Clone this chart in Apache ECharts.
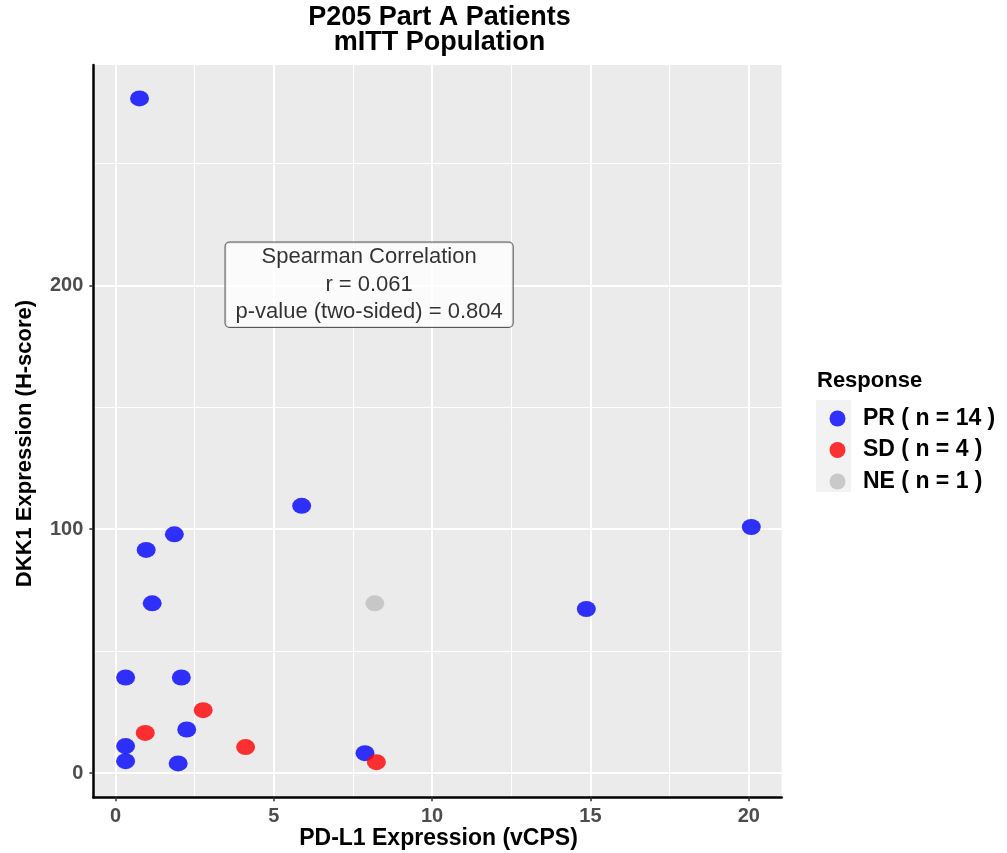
<!DOCTYPE html>
<html><head><meta charset="utf-8">
<script src="https://cdn.jsdelivr.net/npm/echarts@6/dist/echarts.min.js"></script>
<style>html,body{margin:0;padding:0;background:#fff}#c{width:1007px;height:853px}</style>
</head><body><div id="c"></div>
<script>
// ---- data ----
const titleLines = ['P205 Part A Patients', 'mITT Population'];
const xAxisTitle = 'PD-L1 Expression (vCPS)';
const yAxisTitle = 'DKK1 Expression (H-score)';
const legendTitle = 'Response';
const seriesNames = ['PR ( n = 14 )', 'SD ( n = 4 )', 'NE ( n = 1 )'];
const seriesColors = ['#0000FF', '#FF0000', '#BEBEBE'];
const prPoints = [[0.76, 276.6], [5.88, 109.6], [20.08, 100.9], [1.86, 97.9], [0.97, 91.5],
  [1.16, 69.6], [14.87, 67.3], [0.32, 39.2], [2.08, 39.2], [2.25, 17.9],
  [0.32, 11.1], [0.32, 4.9], [1.98, 4.0], [7.88, 8.2]];
const sdPoints = [[2.77, 25.8], [0.94, 16.5], [4.11, 10.7], [8.24, 4.5]];
const nePoints = [[8.19, 69.6]];
const xTicks = [0, 5, 10, 15, 20];
const xMinorTicks = [2.5, 7.5, 12.5, 17.5];
const yTicks = [0, 100, 200];
const yMinorTicks = [50, 150, 250];
const xRange = [-0.7, 21.04];
const yRange = [-9.9, 290.3];
const annotationLines = ['Spearman Correlation', 'r = 0.061', 'p-value (two-sided) = 0.804'];
const annotationPos = [8.01, 200.2];

// ---- chart ----
const FONT = '"Liberation Sans", Arial, sans-serif';
const ellipse = 'path://M0,1a1,1 0 1,0 2,0a1,1 0 1,0 -2,0z';
const chart = echarts.init(document.getElementById('c'), null, {renderer: 'canvas'});

function mkSeries(name, data, color) {
  return {
    type: 'scatter', name: name, data: data,
    symbol: ellipse, symbolSize: [19, 16],
    itemStyle: {color: color, opacity: 0.8},
    emphasis: {disabled: true}, clip: false
  };
}

const majorAxisCommon = {
  type: 'value',
  axisLine: {show: true, onZero: false, lineStyle: {color: '#000', width: 2.5}},
  axisTick: {show: true, length: 4, lineStyle: {color: '#333', width: 1.5}},
  axisLabel: {color: '#4D4D4D', fontWeight: 'bold', fontSize: 20, fontFamily: FONT},
  splitLine: {show: true, lineStyle: {color: '#FFFFFF', width: 2}},
  minorTick: {show: false}, minorSplitLine: {show: false}
};
const minorAxisCommon = {
  type: 'value',
  axisLine: {show: false},
  axisLabel: {show: false},
  splitLine: {show: true, lineStyle: {color: '#FFFFFF', width: 1}}
};

const option = {
  backgroundColor: '#FFFFFF',
  animation: false,
  grid: {left: 93.3, right: 225.3, top: 65, bottom: 55.7, show: true,
    backgroundColor: '#EBEBEB', borderWidth: 0, containLabel: false, outerBoundsMode: 'none'},
  xAxis: [
    Object.assign({}, minorAxisCommon, {min: xRange[0], max: xRange[1], position: 'bottom',
      axisTick: {show: false, customValues: xMinorTicks}}),
    echarts.util.merge(echarts.util.clone(majorAxisCommon), {min: xRange[0], max: xRange[1], position: 'bottom',
      axisTick: {customValues: xTicks}, axisLabel: {customValues: xTicks, margin: 9}})
  ],
  yAxis: [
    Object.assign({}, minorAxisCommon, {min: yRange[0], max: yRange[1], position: 'left',
      axisTick: {show: false, customValues: yMinorTicks}}),
    echarts.util.merge(echarts.util.clone(majorAxisCommon), {min: yRange[0], max: yRange[1], position: 'left',
      axisTick: {customValues: yTicks}, axisLabel: {customValues: yTicks, margin: 10}})
  ],
  legend: {
    orient: 'vertical', left: 824.5, top: 402, itemWidth: 19, itemHeight: 16, itemGap: 8.5,
    icon: ellipse, data: seriesNames, selectedMode: false,
    textStyle: {fontSize: 23, fontWeight: 'bold', color: '#000', fontFamily: FONT, lineHeight: 22, padding: [0, 0, 0, 11]}
  },
  graphic: [
    {type: 'rect', shape: {x: 816, y: 400, width: 35, height: 92}, style: {fill: '#F2F2F2'}, z: 0, silent: true},
    {type: 'text', x: 439.5, y: 18, style: {text: titleLines[0], align: 'center', verticalAlign: 'middle',
      fontSize: 27, fontWeight: 'bold', fontFamily: FONT, fill: '#000'}},
    {type: 'text', x: 439.5, y: 43, style: {text: titleLines[1], align: 'center', verticalAlign: 'middle',
      fontSize: 27, fontWeight: 'bold', fontFamily: FONT, fill: '#000'}},
    {type: 'text', x: 438.5, y: 839, style: {text: xAxisTitle, align: 'center', verticalAlign: 'middle',
      fontSize: 23, fontWeight: 'bold', fontFamily: FONT, fill: '#000'}},
    {type: 'text', x: 25, y: 443.5, rotation: Math.PI / 2, style: {text: yAxisTitle, align: 'center', verticalAlign: 'middle',
      fontSize: 22, fontWeight: 'bold', fontFamily: FONT, fill: '#000'}},
    {type: 'text', x: 817, y: 381, style: {text: legendTitle, align: 'left', verticalAlign: 'middle',
      fontSize: 22, fontWeight: 'bold', fontFamily: FONT, fill: '#000'}}
  ],
  series: [
    Object.assign(mkSeries(seriesNames[0], prPoints, seriesColors[0]), {xAxisIndex: 1, yAxisIndex: 1}),
    Object.assign(mkSeries(seriesNames[1], sdPoints, seriesColors[1]), {xAxisIndex: 1, yAxisIndex: 1}),
    Object.assign(mkSeries(seriesNames[2], nePoints, seriesColors[2]), {xAxisIndex: 1, yAxisIndex: 1}),
    {
      type: 'scatter', name: 'annotation', xAxisIndex: 1, yAxisIndex: 1,
      data: [annotationPos], symbolSize: 0, silent: true, z: 5,
      label: {
        show: true, position: 'inside',
        formatter: annotationLines.join('\n'),
        fontSize: 22, lineHeight: 27.5, fontFamily: FONT, color: '#000000', align: 'center',
        textBorderWidth: 0,
        backgroundColor: '#FFFFFF', borderColor: '#333333', borderWidth: 1, borderRadius: 4,
        padding: [1, 10]
      }
    }
  ]
};
chart.setOption(option);
</script>
</body></html>
